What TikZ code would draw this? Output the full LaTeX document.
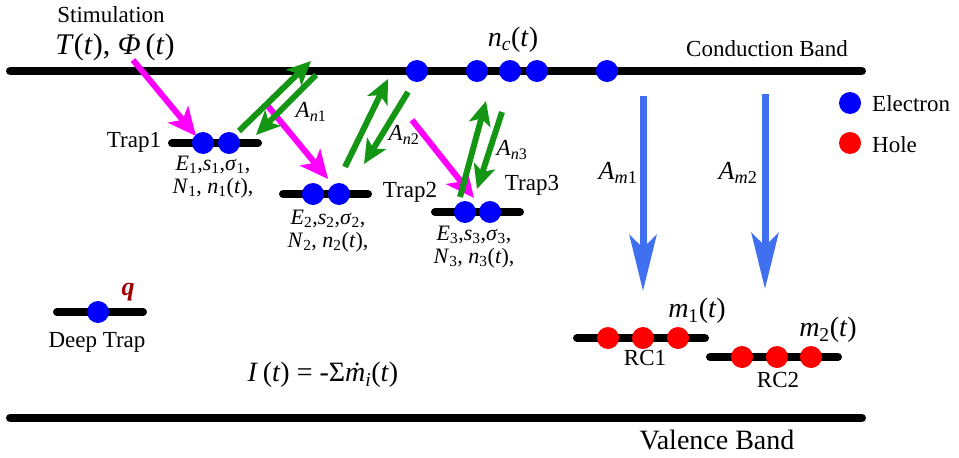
\documentclass[tikz,border=0pt]{standalone}
\usepackage{fontspec}
\setmainfont{Liberation Serif}
\usetikzlibrary{arrows.meta}
\definecolor{eblue}{RGB}{0,0,255}
\definecolor{hred}{RGB}{255,0,0}
\definecolor{magc}{RGB}{255,0,255}
\definecolor{grnc}{RGB}{20,150,20}
\definecolor{ablue}{RGB}{64,112,240}
\definecolor{qred}{RGB}{160,0,0}
\newcommand{\vi}[1]{\textit{#1}}
\newcommand{\sbs}[1]{\textsubscript{#1}}
\newcommand{\fs}[1]{\fontsize{#1}{#1}\selectfont}
\tikzset{
  band/.style={line width=8pt, line cap=round},
  elec/.style={circle, fill=eblue, minimum size=22pt, inner sep=0pt},
  holec/.style={circle, fill=hred, minimum size=22pt, inner sep=0pt},
  magarrow/.style={draw=magc, line width=6pt, -{Stealth[length=28pt,width=26pt,inset=7pt]}},
  grnarrow/.style={draw=grnc, line width=6pt, -{Stealth[length=24pt,width=22pt,inset=6pt]}},
  bluarrow/.style={draw=ablue, line width=7pt, -{Stealth[length=56pt,width=27pt,inset=13pt]}},
  lbl/.style={inner sep=0pt, font=\fs{23}},
  mlbl/.style={inner sep=0pt, font=\fs{26}},
  parlbl/.style={inner sep=0pt, align=center, font=\fontsize{22}{23}\selectfont},
}
\begin{document}
\begin{tikzpicture}[x=1pt,y=-1pt]
\useasboundingbox (0,0) rectangle (959,458);
% bands
\coordinate (cbL) at (10,71); \coordinate (cbR) at (862,71);
\coordinate (vbL) at (10,418); \coordinate (vbR) at (862,418);
\draw[band] (cbL) -- (cbR);
\draw[band] (vbL) -- (vbR);
% trap levels
\coordinate (t1L) at (172,143); \coordinate (t1R) at (258,143);
\coordinate (t2L) at (283,194); \coordinate (t2R) at (368,194);
\coordinate (t3L) at (435,212); \coordinate (t3R) at (520,212);
\coordinate (dtL) at (57,312); \coordinate (dtR) at (143,312);
\coordinate (r1L) at (577,338); \coordinate (r1R) at (705,338);
\coordinate (r2L) at (710,357); \coordinate (r2R) at (838,357);
\foreach \a/\b in {t1L/t1R,t2L/t2R,t3L/t3R,dtL/dtR,r1L/r1R,r2L/r2R}
  \draw[band] (\a) -- (\b);
% electrons
\node[elec] (c1) at (417,71) {};
\node[elec] (c2) at (477,71) {};
\node[elec] (c3) at (510,71) {};
\node[elec] (c4) at (537,71) {};
\node[elec] (c5) at (607,71) {};
\node[elec] (e11) at (203,143) {};
\node[elec] (e12) at (229,143) {};
\node[elec] (e21) at (313,194) {};
\node[elec] (e22) at (339,194) {};
\node[elec] (e31) at (465,212) {};
\node[elec] (e32) at (490,212) {};
\node[elec] (ed) at (98,312) {};
% holes
\node[holec] (h11) at (608,338) {};
\node[holec] (h12) at (643,338) {};
\node[holec] (h13) at (678,338) {};
\node[holec] (h21) at (742,357) {};
\node[holec] (h22) at (777,357) {};
\node[holec] (h23) at (811,357) {};
% legend
\node[elec] (le) at (850,103) {};
\node[holec] (lh) at (850,143) {};
\node[lbl, anchor=west] (let) at (872,104) {Electron};
\node[lbl, anchor=west] (lht) at (872,145) {Hole};
% magenta arrows
\coordinate (m1s) at (133,60); \coordinate (m1e) at (196,136);
\coordinate (m2s) at (267,105); \coordinate (m2e) at (328,179);
\coordinate (m3s) at (412,120); \coordinate (m3e) at (474,198);
\draw[magarrow] (m1s) -- (m1e);
\draw[magarrow] (m2s) -- (m2e);
\draw[magarrow] (m3s) -- (m3e);
% green arrows
\coordinate (g1us) at (239,131); \coordinate (g1ue) at (311,61);
\coordinate (g1ds) at (316,75); \coordinate (g1de) at (256,135);
\coordinate (g2us) at (345,167); \coordinate (g2ue) at (388,79);
\coordinate (g2ds) at (408,92); \coordinate (g2de) at (364,164);
\coordinate (g3us) at (460,197); \coordinate (g3ue) at (486,101);
\coordinate (g3ds) at (502,112); \coordinate (g3de) at (477,189);
\draw[grnarrow] (g1us) -- (g1ue);
\draw[grnarrow] (g1ds) -- (g1de);
\draw[grnarrow] (g2us) -- (g2ue);
\draw[grnarrow] (g2ds) -- (g2de);
\draw[grnarrow] (g3us) -- (g3ue);
\draw[grnarrow] (g3ds) -- (g3de);
% blue arrows
\coordinate (b1s) at (643,96); \coordinate (b1e) at (643,291);
\coordinate (b2s) at (765,94); \coordinate (b2e) at (765,289);
\draw[bluarrow] (b1s) -- (b1e);
\draw[bluarrow] (b2s) -- (b2e);
% texts
\node[lbl] (stim) at (111,15) {Stimulation};
\node[inner sep=0pt, font=\fs{30}] (tphi) at (115,47) {\vi{T}(\vi{t}), \vi{Φ}\,(\vi{t})};
\node[inner sep=0pt, font=\fs{28}] (nc) at (513,40) {\vi{n}\sbs{\vi{c}}(\vi{t})};
\node[lbl] (cbt) at (767,49) {Conduction Band};
\node[lbl] (tr1) at (134,142) {Trap1};
\node[lbl] (tr2) at (410,192) {Trap2};
\node[lbl] (tr3) at (532,185) {Trap3};
\node[parlbl] (p1) at (213,177) {\vi{E}\sbs{1},\vi{s}\sbs{1},\vi{σ}\sbs{1},\\ \vi{N}\sbs{1}, \vi{n}\sbs{1}(\vi{t}),};
\node[parlbl] (p2) at (328,231) {\vi{E}\sbs{2},\vi{s}\sbs{2},\vi{σ}\sbs{2},\\ \vi{N}\sbs{2}, \vi{n}\sbs{2}(\vi{t}),};
\node[parlbl] (p3) at (474,247) {\vi{E}\sbs{3},\vi{s}\sbs{3},\vi{σ}\sbs{3},\\ \vi{N}\sbs{3}, \vi{n}\sbs{3}(\vi{t}),};
\node[lbl] (an1) at (311,112) {\vi{A}\sbs{\vi{n}1}};
\node[lbl] (an2) at (404,135) {\vi{A}\sbs{\vi{n}2}};
\node[lbl] (an3) at (512,150) {\vi{A}\sbs{\vi{n}3}};
\node[mlbl] (am1) at (618,173) {\vi{A}\sbs{\vi{m}1}};
\node[mlbl] (am2) at (738,173) {\vi{A}\sbs{\vi{m}2}};
\node[inner sep=0pt, font=\fs{26}\bfseries\itshape, text=qred] (q) at (128,292) {q};
\node[lbl] (dtt) at (97,342) {Deep Trap};
\node[inner sep=0pt, font=\fs{28}] (it) at (323,375) {\vi{I}\,(\vi{t}) = -Σ\vi{\.m}\sbs{\vi{i}}(\vi{t})};
\node[inner sep=0pt, font=\fs{28}] (m1t) at (697,311) {\vi{m}\sbs{1}(\vi{t})};
\node[inner sep=0pt, font=\fs{28}] (m2t) at (828,330) {\vi{m}\sbs{2}(\vi{t})};
\node[lbl] (rc1) at (645,358) {RC1};
\node[lbl] (rc2) at (778,380) {RC2};
\node[inner sep=0pt, font=\fs{28}] (vbt) at (717,440) {Valence Band};
\end{tikzpicture}
\end{document}
